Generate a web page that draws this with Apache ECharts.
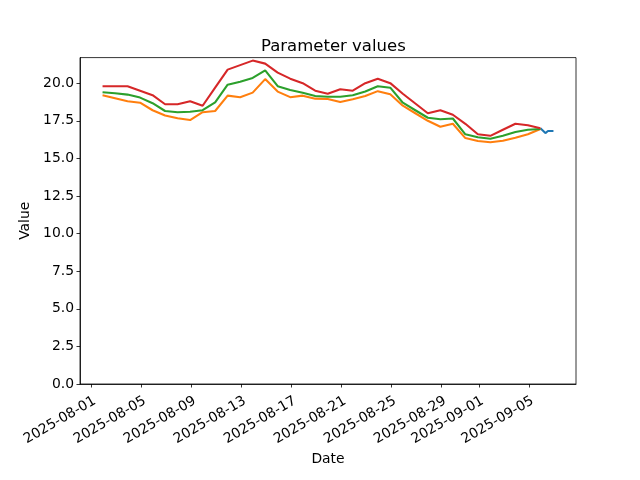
<!DOCTYPE html>
<html>
<head>
<meta charset="utf-8">
<script src="https://cdn.jsdelivr.net/npm/echarts@6/dist/echarts.min.js"></script>
<style>html,body{margin:0;padding:0;background:#fff}#c{width:640px;height:480px}</style>
</head>
<body>
<div id="c"></div>
<script>
const dates = [
 '2025-08-01 21:30','2025-08-02 21:30','2025-08-03 21:30','2025-08-04 21:30','2025-08-05 21:30','2025-08-06 21:30',
 '2025-08-07 21:30','2025-08-08 21:30','2025-08-09 21:30','2025-08-10 21:30','2025-08-11 21:30','2025-08-12 21:30',
 '2025-08-13 21:30','2025-08-14 21:30','2025-08-15 21:30','2025-08-16 21:30','2025-08-17 21:30','2025-08-18 21:30',
 '2025-08-19 21:30','2025-08-20 21:30','2025-08-21 21:30','2025-08-22 21:30','2025-08-23 21:30','2025-08-24 21:30',
 '2025-08-25 21:30','2025-08-26 21:30','2025-08-27 21:30','2025-08-28 21:30','2025-08-29 21:30','2025-08-30 21:30',
 '2025-08-31 21:30','2025-09-01 21:30','2025-09-02 21:30','2025-09-03 21:30','2025-09-04 21:30','2025-09-05 21:30'
];
const upperValues = [19.8,19.8,19.8,19.5,19.2,18.6,18.6,18.8,18.5,19.7,20.9,21.2,21.5,21.3,20.7,20.3,20.0,19.5,
 19.3,19.6,19.5,20.0,20.3,20.0,19.3,18.65,18.0,18.2,17.9,17.3,16.6,16.5,16.9,17.3,17.2,17.0];
const middleValues = [19.4,19.33,19.24,19.04,18.67,18.15,18.07,18.1,18.2,18.73,19.9,20.1,20.35,20.85,19.8,19.55,19.37,19.15,
 19.1,19.1,19.2,19.45,19.8,19.7,18.7,18.2,17.7,17.6,17.65,16.6,16.4,16.3,16.5,16.75,16.9,16.95];
const lowerValues = [19.2,19.0,18.8,18.7,18.2,17.85,17.67,17.55,18.07,18.15,19.17,19.07,19.37,20.27,19.44,19.07,19.17,18.97,
 18.95,18.75,18.93,19.15,19.47,19.27,18.5,18.0,17.5,17.1,17.3,16.35,16.15,16.07,16.17,16.37,16.6,16.95];
const rawTimes = ['2025-09-05 21:30','2025-09-06 07:00','2025-09-06 12:00','2025-09-06 22:30'];
const rawValues = [17.0,16.68,16.82,16.82];
const xTickDates = ['2025-08-01','2025-08-05','2025-08-09','2025-08-13','2025-08-17','2025-08-21','2025-08-25','2025-08-29','2025-09-01','2025-09-05'];
const yTicks = [0,2.5,5,7.5,10,12.5,15,17.5,20];

const ORIGIN = Date.UTC(2025,7,1);
function toDays(s){
  const [d,t] = s.split(' ');
  const [Y,M,D] = d.split('-').map(Number);
  let h=0,m=0;
  if(t){[h,m]=t.split(':').map(Number);}
  return (Date.UTC(Y,M-1,D,h,m)-ORIGIN)/86400000;
}
function fromDays(x){
  const dt = new Date(ORIGIN + Math.round(x)*86400000);
  const p = n => String(n).padStart(2,'0');
  return dt.getUTCFullYear()+'-'+p(dt.getUTCMonth()+1)+'-'+p(dt.getUTCDate());
}
const xs = dates.map(toDays);
const rx = rawTimes.map(toDays);
const allX = xs.concat(rx);
const x0 = Math.min(...allX), x1 = Math.max(...allX), span = x1-x0;
const pair = (X,V)=>X.map((x,i)=>[x,V[i]]);
const FONT = 'DejaVu Sans';
const fs = 13.9;

const chart = echarts.init(document.getElementById('c'), null, {renderer:'canvas'});
chart.setOption({
  animation:false,
  backgroundColor:'#fff',
  textStyle:{fontFamily:FONT},
  title:{text:'Parameter values', left:256, top:33,
    textStyle:{fontFamily:FONT, fontSize:16.5, fontWeight:'normal', color:'#000'}},
  grid:{left:80, right:64, top:57.6, bottom:96, show:true, borderColor:'#000', borderWidth:0.8, backgroundColor:'transparent'},
  xAxis:{type:'value', min:x0-0.05*span, max:x1+0.05*span,
    name:'Date', nameLocation:'middle', nameGap:66,
    nameTextStyle:{fontFamily:FONT, fontSize:fs, color:'#000'},
    axisLine:{show:true, onZero:false, lineStyle:{color:'#000', width:0.8}},
    axisTick:{show:true, length:3.5, lineStyle:{color:'#000', width:0.8}, customValues:xTickDates.map(toDays)},
    axisLabel:{show:true, rotate:30, margin:10, align:'right', verticalAlign:'top', fontFamily:FONT, fontSize:fs, color:'#000',
      customValues:xTickDates.map(toDays), formatter:v=>fromDays(v)},
    splitLine:{show:false}},
  yAxis:{type:'value', min:0, max:21.7,
    name:'Value', nameLocation:'middle', nameGap:46,
    nameTextStyle:{fontFamily:FONT, fontSize:fs, color:'#000'},
    axisLine:{show:true, onZero:false, lineStyle:{color:'#000', width:0.8}},
    axisTick:{show:true, length:3.5, lineStyle:{color:'#000', width:0.8}, customValues:yTicks},
    axisLabel:{show:true, margin:6, fontFamily:FONT, fontSize:fs, color:'#000',
      customValues:yTicks, formatter:v=>v.toFixed(1)},
    splitLine:{show:false}},
  series:[
    {type:'line', data:pair(rx,rawValues), showSymbol:false, lineStyle:{color:'#1f77b4', width:2.08}, itemStyle:{color:'#1f77b4'}},
    {type:'line', data:pair(xs,lowerValues), showSymbol:false, lineStyle:{color:'#ff7f0e', width:2.08}, itemStyle:{color:'#ff7f0e'}},
    {type:'line', data:pair(xs,middleValues), showSymbol:false, lineStyle:{color:'#2ca02c', width:2.08}, itemStyle:{color:'#2ca02c'}},
    {type:'line', data:pair(xs,upperValues), showSymbol:false, lineStyle:{color:'#d62728', width:2.08}, itemStyle:{color:'#d62728'}}
  ]
});
</script>
</body>
</html>
